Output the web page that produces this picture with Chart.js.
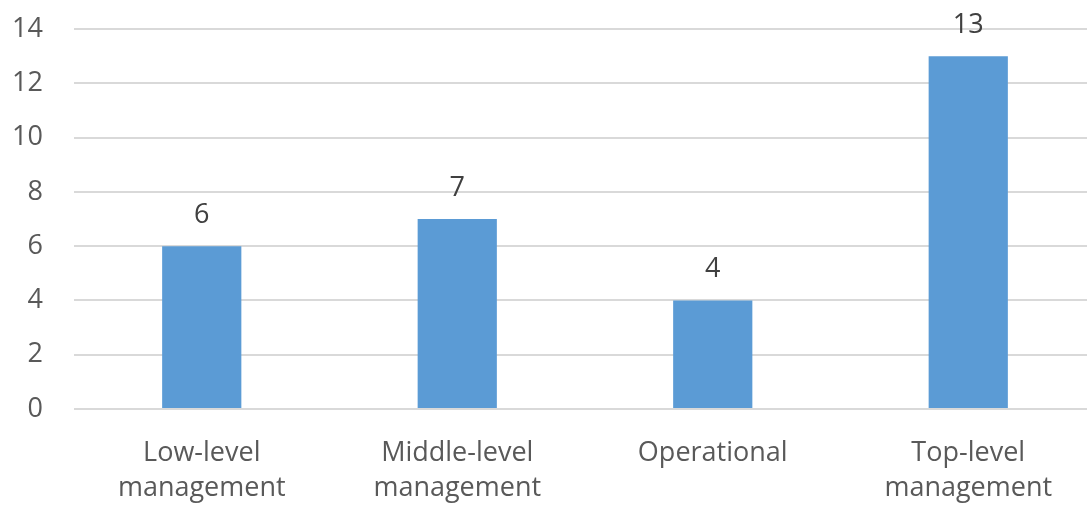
<!DOCTYPE html>
<html>
<head>
<meta charset="utf-8">
<script src="https://cdn.jsdelivr.net/npm/chart.js@4/dist/chart.umd.min.js"></script>
<style>
  html, body { margin: 0; padding: 0; background: #fff; overflow: hidden; }
  #wrap { width: 1087px; height: 509px; overflow: hidden; }
</style>
</head>
<body>
<div id="wrap"><canvas id="bar-chart" width="1096" height="509"></canvas></div>
<script>
// categories and counts
const categories = [["Low-level", "management"], ["Middle-level", "management"], "Operational", ["Top-level", "management"]];
const counts = [6, 7, 4, 13];
const yTicks = [0, 2, 4, 6, 8, 10, 12, 14];

const FONT = "'Open Sans', 'Noto Sans', sans-serif";
const FONT_SIZE = 27;

// value labels above each bar
const valueLabels = {
    id: "valueLabels",
    afterDatasetsDraw(chart) {
        const ctx = chart.ctx;
        const meta = chart.getDatasetMeta(0);
        ctx.save();
        ctx.fillStyle = "#404040";
        ctx.font = FONT_SIZE + "px " + FONT;
        ctx.textAlign = "center";
        ctx.textBaseline = "alphabetic";
        meta.data.forEach(function (bar, i) {
            ctx.fillText(String(counts[i]), bar.x, bar.y - 23);
        });
        ctx.restore();
    }
};

new Chart(document.getElementById("bar-chart"), {
    type: "bar",
    data: {
        labels: categories,
        datasets: [{
            data: counts,
            backgroundColor: "#5B9BD5",
            barPercentage: 0.31,
            categoryPercentage: 1
        }]
    },
    options: {
        responsive: false,
        animation: false,
        layout: { padding: { top: 0, right: 0, left: 0, bottom: 0 } },
        plugins: {
            legend: { display: false },
            tooltip: { enabled: false }
        },
        scales: {
            x: {
                grid: { display: false },
                border: { display: false },
                ticks: {
                    color: "#595959",
                    font: { family: FONT, size: FONT_SIZE, lineHeight: 1.32 },
                    maxRotation: 0,
                    autoSkip: false,
                    padding: 18
                },
                afterFit(scale) { scale.height = 100; }
            },
            y: {
                min: 0,
                max: 14,
                afterBuildTicks(scale) { scale.ticks = yTicks.map(v => ({ value: v })); },
                grid: { color: "#d9d9d9", lineWidth: 2, drawTicks: false },
                border: { display: false },
                ticks: {
                    color: "#595959",
                    font: { family: FONT, size: FONT_SIZE, lineHeight: 1 },
                    padding: 31
                },
                afterFit(scale) {
                    scale.width = 74;
                    scale.paddingTop = 29;
                }
            }
        }
    },
    plugins: [valueLabels]
});
</script>
</body>
</html>
